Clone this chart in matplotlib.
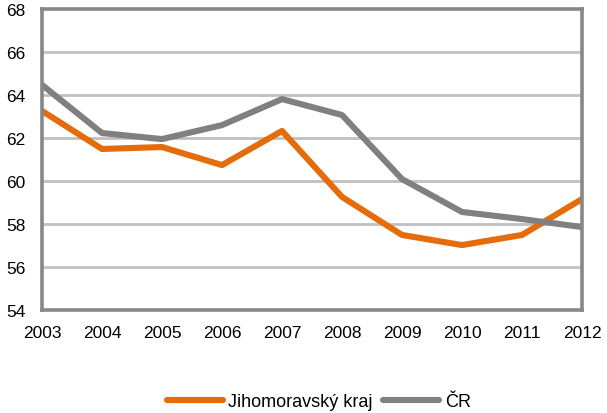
import matplotlib
matplotlib.use("Agg")
import matplotlib.pyplot as plt

years = [2003, 2004, 2005, 2006, 2007, 2008, 2009, 2010, 2011, 2012]
jihomoravsky = [63.26, 61.49, 61.58, 60.74, 62.33, 59.26, 57.49, 57.02, 57.49, 59.16]
cr = [64.47, 62.23, 61.95, 62.6, 63.81, 63.07, 60.09, 58.56, 58.23, 57.86]
series_names = ["Jihomoravský kraj", "ČR"]
yticks = [54, 56, 58, 60, 62, 64, 66, 68]

plt.rcParams['font.family'] = ['Liberation Sans', 'DejaVu Sans']

fig = plt.figure(figsize=(6.07, 4.14), dpi=100)
ax = fig.add_axes([0.0692, 0.2488, 0.8896, 0.727])

for y in yticks[1:-1]:
    ax.axhline(y, color='#C0C0C0', lw=2.0, zorder=1)

ax.plot(years, jihomoravsky, color='#E46C0A', lw=4.4, label=series_names[0], zorder=3,
        solid_capstyle='round', solid_joinstyle='round')
ax.plot(years, cr, color='#808080', lw=4.4, label=series_names[1], zorder=3,
        solid_capstyle='round', solid_joinstyle='round')

ax.set_xlim(2003, 2012)
ax.set_ylim(54, 68)
ax.set_yticks(yticks)
ax.set_xticks(years)
ax.tick_params(length=0, labelsize=12.5, pad=11, colors='#000000')
ax.tick_params(axis='y', pad=12)
for s in ax.spines.values():
    s.set_color('#878787')
    s.set_linewidth(2.6)
    s.set_zorder(4)

leg = fig.legend(loc='center', bbox_to_anchor=(0.525, 0.027), ncol=2, frameon=False,
                 fontsize=13, handlelength=3.1, columnspacing=0.6, handletextpad=0.3)
for line in leg.get_lines():
    line.set_linewidth(4.4)
    line.set_solid_capstyle('round')

fig.savefig("out.png", dpi=100)
